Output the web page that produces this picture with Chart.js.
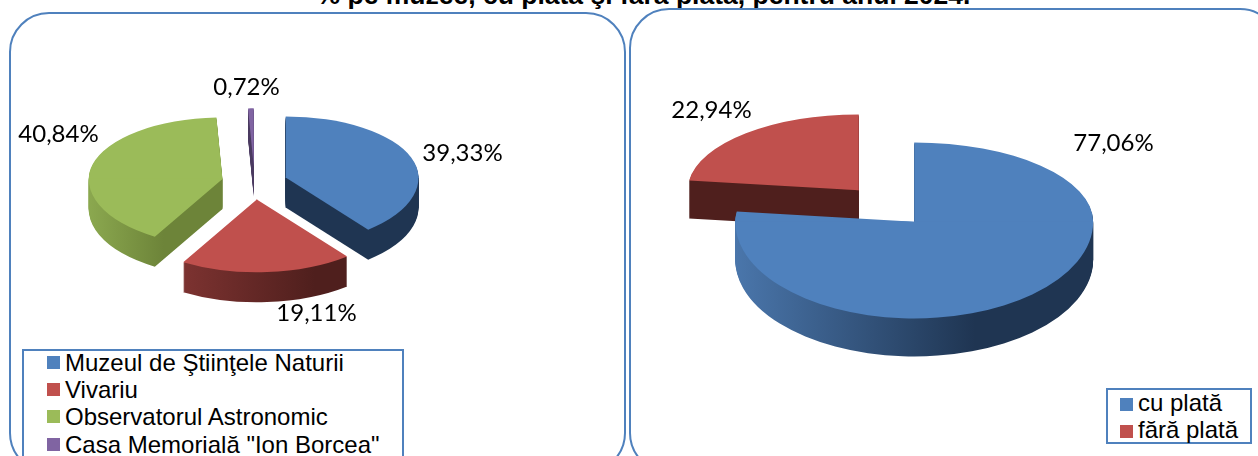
<!DOCTYPE html>
<html>
<head>
<meta charset="utf-8">
<title>Vizitatori pe muzee</title>
<script src="https://cdn.jsdelivr.net/npm/chart.js@4"></script>
<style>
  html, body { margin: 0; padding: 0; background: #fff; overflow: hidden; }
  #page { position: relative; width: 1258px; height: 456px; overflow: hidden; font-family: "Liberation Sans", Arial, sans-serif; }
  #title { position: absolute; left: 0; width: 1287px; top: -18px; text-align: center; font-size: 26.5px; line-height: 26px; font-weight: bold; color: #000; white-space: nowrap; }
  .frame { position: absolute; box-sizing: border-box; border: 2px solid #4f81bd; border-radius: 40px; background: #fff; }
  #frameLeft { left: 9px; top: 12px; width: 617px; height: 461px; }
  #frameRight { left: 629px; top: 8px; width: 651px; height: 465px; }
  canvas { position: absolute; top: 0; }
  #pieLeft { left: 0; }
  #pieRight { left: 586px; }
  .legend { position: absolute; box-sizing: border-box; border: 2px solid #4f81bd; background: #fff; color: #000; font-size: 24px; line-height: 27.2px; }
  #legendLeft { left: 22px; top: 349px; width: 382px; height: 130px; padding: 0 0 0 23px; }
  #legendLeft .item { position: relative; top: -2px; }
  #legendRight { left: 1106px; top: 388px; width: 146px; height: 56px; padding: 0 0 0 12px; line-height: 26.5px; }
  .item { white-space: nowrap; }
  .swatch { display: inline-block; width: 13px; height: 13px; margin-right: 5px; position: relative; top: -2px; }
  #legendRight .swatch { top: 0; }
</style>
</head>
<body>
<div id="page">
  <div id="title"></div>
  <div class="frame" id="frameLeft"></div>
  <div class="frame" id="frameRight"></div>
  <canvas id="pieLeft"></canvas>
  <canvas id="pieRight"></canvas>
  <div class="legend" id="legendLeft"></div>
  <div class="legend" id="legendRight"></div>
</div>
<script>
const titleText = "% pe muzee, cu plată şi fără plată, pentru anul 2024.";

const museums = ["Muzeul de Ştiinţele Naturii", "Vivariu", "Observatorul Astronomic", 'Casa Memorială "Ion Borcea"'];
const museumValues = [39.33, 19.11, 40.84, 0.72];
const museumColors = ["#4f81bd", "#c0504d", "#9bbb59", "#8064a2"];

const payTypes = ["cu plată", "fără plată"];
const payValues = [77.06, 22.94];
const payColors = ["#4f81bd", "#c0504d"];

// side wall colours, left to right across the slice's own width
const museumSides = [
  [[0, "#1f3552"], [1, "#1f3552"]],
  [[0, "#953d3b"], [0.7, "#4f1f1d"], [1, "#4f1f1d"]],
  [[0, "#8ba84f"], [0.28, "#6d8439"], [1, "#6d8439"]],
  [[0, "#4a3a60"], [1, "#4a3a60"]]
];
const paySides = [
  [[0, "#4a76ab"], [0.67, "#1f3552"], [1, "#1f3552"]],
  [[0, "#4f1f1d"], [1, "#4f1f1d"]]
];

// fake 3D: squash every arc, stack copies of it for the wall, then the top face
const pie3d = {
  id: "pie3d",
  beforeDatasetDraw(chart) {
    const o = chart.options.plugins.pie3d;
    const ctx = chart.ctx;
    const arcs = chart.getDatasetMeta(0).data;
    const placed = arcs.map((arc, i) => {
      const mid = (arc.startAngle + arc.endAngle) / 2;
      return {
        arc, i, mid,
        dx: Math.cos(mid) * o.explode,
        dy: Math.sin(mid) * o.explode * o.squash,
        r: arc.outerRadius * (1 + o.near * Math.sin(mid))
      };
    }).sort((a, b) => a.dy - b.dy);

    placed.forEach((p) => {
      const { arc, i } = p;
      const grad = ctx.createLinearGradient(arc.x - p.r, 0, arc.x + p.r, 0);
      o.sides[i].forEach((s) => grad.addColorStop(s[0], s[1]));
      for (let d = o.depth; d >= 1; d--) {
        drawSlice(ctx, p, o, d, grad);
      }
      drawSlice(ctx, p, o, 0, arc.options.backgroundColor);
    });
    return false;
  },
  afterDatasetsDraw(chart) {
    const o = chart.options.plugins.pie3d;
    const ctx = chart.ctx;
    const arc0 = chart.getDatasetMeta(0).data[0];
    ctx.save();
    ctx.font = o.labelFont;
    ctx.fillStyle = "#000";
    ctx.textAlign = "center";
    ctx.textBaseline = "middle";
    chart.data.datasets[0].data.forEach((v, i) => {
      const text = v.toFixed(2).replace(".", ",") + "%";
      ctx.fillText(text, arc0.x + o.labelShift[i][0], arc0.y + o.labelShift[i][1]);
    });
    ctx.restore();
  }
};

function drawSlice(ctx, p, o, d, fill) {
  const { arc } = p;
  const keepOptions = arc.options;
  const keepRadius = arc.outerRadius;
  arc.options = Object.assign({}, keepOptions, { backgroundColor: fill, borderWidth: 0 });
  arc.outerRadius = p.r;
  const ax = arc.x + p.dx;
  const ay = arc.y + p.dy + d;
  // back half sits flatter than the front half
  [[o.squashBack, -2000, ay + 0.5], [o.squashFront, ay - 0.5, 2000]].forEach((part) => {
    ctx.save();
    ctx.beginPath();
    ctx.rect(-2000, part[1], 4000, part[2] - part[1]);
    ctx.clip();
    ctx.translate(ax, ay);
    ctx.scale(1, part[0]);
    ctx.translate(-arc.x, -arc.y);
    arc.draw(ctx);
    ctx.restore();
  });
  arc.options = keepOptions;
  arc.outerRadius = keepRadius;
}

function makePie(id, w, h, labels, values, colors, settings) {
  const canvas = document.getElementById(id);
  canvas.width = w;
  canvas.height = h;
  canvas.style.width = w + "px";
  canvas.style.height = h + "px";
  return new Chart(canvas, {
    type: "pie",
    data: {
      labels,
      datasets: [{ data: values, backgroundColor: colors, borderWidth: 0 }]
    },
    options: {
      responsive: false,
      animation: false,
      events: [],
      radius: settings.radius,
      plugins: { legend: { display: false }, tooltip: { enabled: false }, pie3d: settings }
    },
    plugins: [pie3d]
  });
}

function fillLegend(id, labels, colors) {
  const box = document.getElementById(id);
  labels.forEach((label, i) => {
    const row = document.createElement("div");
    row.className = "item";
    const swatch = document.createElement("span");
    swatch.className = "swatch";
    swatch.style.background = colors[i];
    row.appendChild(swatch);
    row.appendChild(document.createTextNode(label));
    box.appendChild(row);
  });
}

document.getElementById("title").textContent = titleText;
fillLegend("legendLeft", museums, museumColors);
fillLegend("legendRight", payTypes, payColors);

makePie("pieLeft", 509, 366, museums, museumValues, museumColors, {
  radius: 136,
  explode: 33,
  squash: 0.5,
  squashBack: 0.46,
  squashFront: 0.5,
  near: 0.07,
  depth: 30,
  sides: museumSides,
  labelFont: "24px Lato",
  labelShift: [[208, -30], [62, 130], [-196, -49], [-8, -96]]
});

makePie("pieRight", 601, 412, payTypes, payValues, payColors, {
  radius: 175,
  explode: 42,
  squash: 0.5,
  squashBack: 0.443,
  squashFront: 0.54,
  near: 0.03,
  depth: 38,
  sides: paySides,
  labelFont: "24px Lato",
  labelShift: [[227, -63], [-175, -96]]
});
</script>
</body>
</html>
